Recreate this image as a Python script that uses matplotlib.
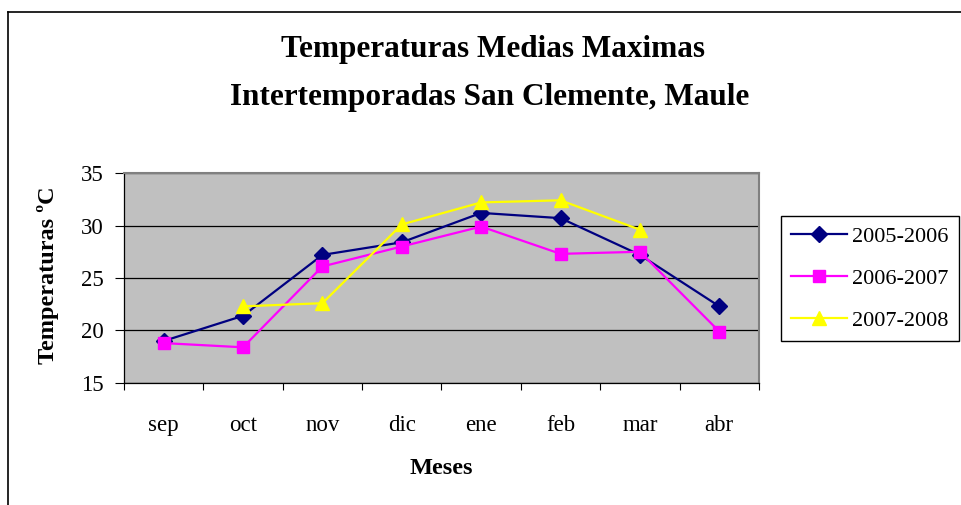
import numpy as np
import matplotlib
matplotlib.use('Agg')
import matplotlib.pyplot as plt
from matplotlib.lines import Line2D

# Monthly mean max temperatures per season
meses = ['sep', 'oct', 'nov', 'dic', 'ene', 'feb', 'mar', 'abr']
t_2005_2006 = [19.0, 21.4, 27.2, 28.4, 31.2, 30.7, 27.2, 22.3]
t_2006_2007 = [18.8, 18.4, 26.1, 28.0, 29.9, 27.3, 27.5, 19.9]
t_2007_2008 = [np.nan, 22.3, 22.6, 30.1, 32.2, 32.4, 29.6, np.nan]
y_ticks = [15, 20, 25, 30, 35]

plt.rcParams['font.family'] = 'Liberation Serif'

fig = plt.figure(figsize=(9.61, 5.05), dpi=100)
ax = fig.add_axes([0.129, 0.2416, 0.6608, 0.4158])
ax.set_facecolor('#C0C0C0')

x = np.arange(1, len(meses) + 1)
ax.plot(x, t_2005_2006, color='#000080', lw=1.6, marker='D', markersize=8,
        label='2005-2006', zorder=3)
ax.plot(x, t_2006_2007, color='#FF00FF', lw=1.6, marker='s', markersize=8.5,
        label='2006-2007', zorder=3)
ax.plot(x, t_2007_2008, color='#FFFF00', lw=1.6, marker='^', markersize=10.5,
        label='2007-2008', zorder=3)

ax.set_xlim(0.5, len(meses) + 0.5)
ax.set_ylim(15, 35)
ax.set_yticks(y_ticks)
ax.yaxis.grid(True, color='black', lw=0.9)
ax.set_axisbelow(True)

# category boundaries as tick marks, names centred between them
ax.set_xticks(np.arange(0.5, len(meses) + 1, 1))
ax.set_xticklabels([])
ax.set_xticks(x, minor=True)
ax.set_xticklabels(meses, minor=True, fontsize=16.5)
ax.tick_params(axis='x', which='minor', length=0, pad=23)
ax.tick_params(axis='x', which='major', length=5, width=0.8, direction='out')
ax.tick_params(axis='y', length=6.5, width=0.8, labelsize=16.5, pad=8)

for s in ['top', 'right']:
    ax.spines[s].set_color('#808080')
    ax.spines[s].set_linewidth(1.5)
for s in ['left', 'bottom']:
    ax.spines[s].set_color('black')
    ax.spines[s].set_linewidth(0.9)

fig.text(0.513, 1 - 50 / 505, 'Temperaturas Medias Maximas',
         ha='center', va='center', fontsize=22.5, fontweight='bold')
fig.text(0.51, 1 - 97 / 505, 'Intertemporadas San Clemente, Maule',
         ha='center', va='center', fontsize=22.5, fontweight='bold')
fig.text(0.05, 0.455, 'Temperaturas ºC', rotation=90, ha='center', va='center',
         fontsize=17.5, fontweight='bold')
fig.text(0.459, 1 - 468 / 505, 'Meses', ha='center', va='center', fontsize=17.5, fontweight='bold')

leg_top = 1 - 216 / 505
leg = ax.legend(loc='upper left', bbox_to_anchor=(781 / 961, leg_top - 0.3, 178 / 961, 0.3),
                bbox_transform=fig.transFigure, mode='expand', fontsize=16,
                frameon=True, fancybox=False, edgecolor='black', framealpha=1,
                handlelength=2.5, handletextpad=0.25, labelspacing=0.98,
                borderpad=0.45, borderaxespad=0)
leg.get_frame().set_linewidth(1.0)

# chart area border (left and top edges visible)
fig.add_artist(Line2D([8 / 961, 8 / 961], [0, 1 - 12 / 505], transform=fig.transFigure,
                      color='black', lw=1.2))
fig.add_artist(Line2D([8 / 961, 1], [1 - 12 / 505, 1 - 12 / 505], transform=fig.transFigure,
                      color='black', lw=1.2))

fig.savefig('out.png', dpi=100)
